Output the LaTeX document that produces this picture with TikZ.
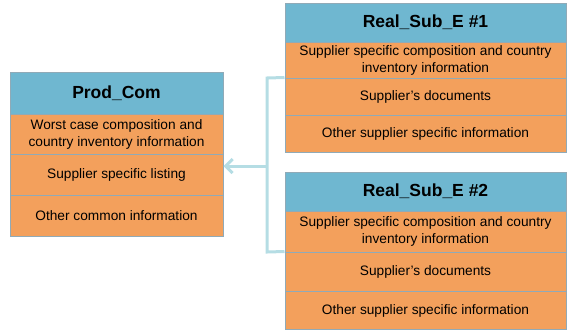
\documentclass[tikz,border=0pt]{standalone}
\usepackage{fontspec}
\setmainfont{Liberation Sans}
\usetikzlibrary{arrows.meta}
\definecolor{hdr}{HTML}{6FB7D0}
\definecolor{org}{HTML}{F3A05C}
\definecolor{bdr}{HTML}{90AAB7}
\definecolor{cn}{HTML}{B5DDE4}
\tikzset{
  cell/.style={draw=bdr,line width=1pt,inner sep=0pt,align=center,font=\fontsize{13.7}{17}\selectfont},
  hcell/.style={cell,fill=hdr,font=\fontsize{17.5}{20}\selectfont\bfseries},
  ocell/.style={cell,fill=org},
  conn/.style={draw=cn,line width=3pt},
}
\begin{document}
\begin{tikzpicture}[x=1pt,y=-1pt]
\useasboundingbox (0,0) rectangle (567,330);
% Prod_Com
\node[hcell,minimum width=213pt,minimum height=42pt] (pch) at (116.5,93) {Prod\_Com};
\node[ocell,minimum width=213pt,minimum height=40pt] (pc1) at (116.5,134) {Worst case composition and\\country inventory information};
\node[ocell,minimum width=213pt,minimum height=41pt] (pc2) at (116.5,174.5) {Supplier specific listing};
\node[ocell,minimum width=213pt,minimum height=41pt] (pc3) at (116.5,215.5) {Other common information};
% Real_Sub_E #1
\node[hcell,minimum width=281pt,minimum height=39pt] (r1h) at (425.5,22.5) {Real\_Sub\_E \#1};
\node[ocell,minimum width=281pt,minimum height=36pt] (r1a) at (425.5,60) {Supplier specific composition and country\\inventory information};
\node[ocell,minimum width=281pt,minimum height=37pt] (r1b) at (425.5,96.5) {Supplier’s documents};
\node[ocell,minimum width=281pt,minimum height=37pt] (r1c) at (425.5,133.5) {Other supplier specific information};
% Real_Sub_E #2
\node[hcell,minimum width=281pt,minimum height=39pt] (r2h) at (425.5,191.5) {Real\_Sub\_E \#2};
\node[ocell,minimum width=281pt,minimum height=41pt] (r2a) at (425.5,231.5) {Supplier specific composition and country\\inventory information};
\node[ocell,minimum width=281pt,minimum height=39pt] (r2b) at (425.5,271.5) {Supplier’s documents};
\node[ocell,minimum width=281pt,minimum height=38pt] (r2c) at (425.5,310.5) {Other supplier specific information};
% connector
\coordinate (jt) at (267,78);
\coordinate (jb) at (267,252);
\coordinate (jm) at (267,166);
\draw[conn] (r1b.north west) -- (jt) -- (jb) -- (r2b.north west);
\draw[conn,-{Straight Barb[length=7pt,width=14pt]}] (jm) -- (pc2.east |- jm);
\end{tikzpicture}
\end{document}
